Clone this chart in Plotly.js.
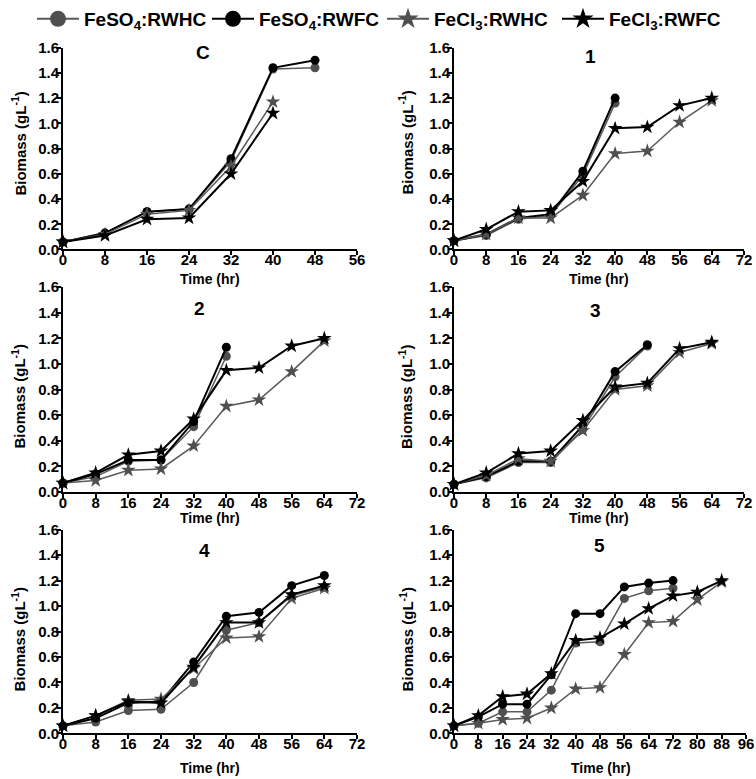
<!DOCTYPE html>
<html>
<head>
<meta charset="utf-8">
<script src="https://cdn.plot.ly/plotly-3.0.1.min.js"></script>
<style>html,body{margin:0;padding:0;background:#fff;}#chart{width:756px;height:779px;}</style>
</head>
<body>
<div id="chart"></div>
<script>
// ---- Data ----
const panelNames = ['C', '1', '2', '3', '4', '5'];
const seriesNames = ['FeSO<sub>4</sub>:RWHC', 'FeSO<sub>4</sub>:RWFC', 'FeCl<sub>3</sub>:RWHC', 'FeCl<sub>3</sub>:RWFC'];
const xTitle = 'Time (hr)';
const yTitle = 'Biomass (gL<sup>-1</sup>)';

const t40 = [0, 8, 16, 24, 32, 40];
const t48 = [0, 8, 16, 24, 32, 40, 48];
const t64 = [0, 8, 16, 24, 32, 40, 48, 56, 64];
const t72 = [0, 8, 16, 24, 32, 40, 48, 56, 64, 72];
const t88 = [0, 8, 16, 24, 32, 40, 48, 56, 64, 72, 80, 88];

// Panel C
const C_so4_hc = [0.06, 0.13, 0.30, 0.32, 0.70, 1.43, 1.44];
const C_so4_fc = [0.06, 0.13, 0.30, 0.32, 0.72, 1.44, 1.50];
const C_cl3_hc = [0.06, 0.12, 0.28, 0.31, 0.66, 1.17];
const C_cl3_fc = [0.06, 0.11, 0.24, 0.25, 0.60, 1.08];
// Panel 1
const P1_so4_hc = [0.07, 0.11, 0.24, 0.27, 0.59, 1.16];
const P1_so4_fc = [0.07, 0.12, 0.25, 0.28, 0.62, 1.20];
const P1_cl3_hc = [0.07, 0.12, 0.25, 0.25, 0.43, 0.76, 0.78, 1.01, 1.18];
const P1_cl3_fc = [0.07, 0.16, 0.30, 0.31, 0.54, 0.96, 0.97, 1.14, 1.20];
// Panel 2
const P2_so4_hc = [0.07, 0.12, 0.24, 0.25, 0.51, 1.06];
const P2_so4_fc = [0.07, 0.14, 0.25, 0.25, 0.55, 1.13];
const P2_cl3_hc = [0.07, 0.09, 0.17, 0.18, 0.36, 0.67, 0.72, 0.94, 1.18];
const P2_cl3_fc = [0.07, 0.15, 0.29, 0.32, 0.57, 0.95, 0.97, 1.14, 1.20];
// Panel 3
const P3_so4_hc = [0.06, 0.11, 0.23, 0.23, 0.49, 0.90, 1.14];
const P3_so4_fc = [0.06, 0.12, 0.24, 0.24, 0.52, 0.94, 1.15];
const P3_cl3_hc = [0.06, 0.13, 0.26, 0.24, 0.48, 0.80, 0.83, 1.09, 1.16];
const P3_cl3_fc = [0.06, 0.15, 0.30, 0.32, 0.56, 0.82, 0.85, 1.12, 1.17];
// Panel 4
const P4_so4_hc = [0.06, 0.09, 0.18, 0.19, 0.40, 0.81, 0.87, 1.08, 1.15];
const P4_so4_fc = [0.06, 0.12, 0.24, 0.25, 0.56, 0.92, 0.95, 1.16, 1.24];
const P4_cl3_hc = [0.06, 0.14, 0.26, 0.27, 0.51, 0.75, 0.76, 1.06, 1.14];
const P4_cl3_fc = [0.06, 0.14, 0.25, 0.24, 0.52, 0.87, 0.87, 1.09, 1.16];
// Panel 5
const P5_so4_hc = [0.06, 0.08, 0.17, 0.17, 0.34, 0.71, 0.72, 1.06, 1.12, 1.14];
const P5_so4_fc = [0.06, 0.13, 0.23, 0.23, 0.46, 0.94, 0.94, 1.15, 1.18, 1.20];
const P5_cl3_hc = [0.06, 0.08, 0.11, 0.12, 0.20, 0.35, 0.36, 0.62, 0.87, 0.88, 1.05, 1.19];
const P5_cl3_fc = [0.06, 0.14, 0.29, 0.31, 0.47, 0.73, 0.75, 0.86, 0.98, 1.08, 1.11, 1.20];

const xTickVals = [0, 8, 16, 24, 32, 40, 48, 56, 64, 72, 80, 88, 96];
const xMax = [56, 72, 72, 72, 72, 96];

const panelData = [
  [[t48, C_so4_hc], [t48, C_so4_fc], [t40, C_cl3_hc], [t40, C_cl3_fc]],
  [[t40, P1_so4_hc], [t40, P1_so4_fc], [t64, P1_cl3_hc], [t64, P1_cl3_fc]],
  [[t40, P2_so4_hc], [t40, P2_so4_fc], [t64, P2_cl3_hc], [t64, P2_cl3_fc]],
  [[t48, P3_so4_hc], [t48, P3_so4_fc], [t64, P3_cl3_hc], [t64, P3_cl3_fc]],
  [[t64, P4_so4_hc], [t64, P4_so4_fc], [t64, P4_cl3_hc], [t64, P4_cl3_fc]],
  [[t72, P5_so4_hc], [t72, P5_so4_fc], [t88, P5_cl3_hc], [t88, P5_cl3_fc]]
];

// ---- Styles / layout ----
const W = 756, H = 779;
const FONT = 'Liberation Sans, Arial, sans-serif';
const GRAY = '#4f4f4f';
const styles = [
  {symbol: 'circle', color: GRAY, lineColor: '#5a5a5a', lw: 1.5, size: 9},
  {symbol: 'circle', color: '#000', lineColor: '#000', lw: 2, size: 9},
  {symbol: 'star', color: GRAY, lineColor: '#5a5a5a', lw: 1.5, size: 11},
  {symbol: 'star', color: '#000', lineColor: '#000', lw: 2, size: 11}
];

// pixel boxes [x0, x1, yTop, yBottom]
const boxes = [
  [63, 357, 40, 244], [454, 744, 40, 244],
  [63, 357, 282, 489], [454, 744, 282, 489],
  [63, 357, 527, 733], [454, 746, 527, 733]
];
const titlePos = [[203, 45], [590, 49], [199, 304], [595, 306], [204, 548], [599, 543]];
const xTitlePos = [[210, 274], [599, 274], [210, 515], [599, 515], [210, 768], [601, 768]];
const yTitlePos = [[19, 137], [406, 136], [18.5, 393], [406, 393], [18, 638], [406, 638]];

const traces = [];
const layout = {
  width: W, height: H,
  margin: {l: 0, r: 0, t: 0, b: 0},
  paper_bgcolor: '#fff', plot_bgcolor: '#fff',
  font: {family: FONT, color: '#000', weight: 'bold'},
  showlegend: true,
  legend: {
    orientation: 'h', x: 32 / W, xanchor: 'left', y: 1 - 11 / H, yanchor: 'middle',
    font: {family: FONT, size: 19, color: '#000', weight: 'bold'},
    itemwidth: 42, entrywidth: 118, bgcolor: 'rgba(0,0,0,0)', traceorder: 'normal'
  },
  annotations: []
};

const tfont = (s) => ({family: FONT, size: s, color: '#000', weight: 'bold'});

panelData.forEach((series, p) => {
  const ax = p === 0 ? '' : String(p + 1);
  const b = boxes[p];
  layout['xaxis' + ax] = {
    domain: [b[0] / W, b[1] / W], anchor: 'y' + ax,
    range: [0, xMax[p]], tickvals: xTickVals.filter(v => v <= xMax[p]),
    showline: true, linecolor: '#000', linewidth: 2, ticks: 'outside', ticklen: 4, tickwidth: 2, tickcolor: '#000',
    ticklabelstandoff: -8, showgrid: false, zeroline: false, tickfont: tfont(15)
  };
  layout['yaxis' + ax] = {
    domain: [1 - b[3] / H, 1 - b[2] / H], anchor: 'x' + ax,
    range: [0, 1.6], dtick: 0.2, tick0: 0, tickformat: '.1f',
    showline: true, linecolor: '#000', linewidth: 2, ticks: 'outside', ticklen: 4, tickwidth: 2, tickcolor: '#000',
    ticklabelstandoff: -5, showgrid: false, zeroline: false, tickfont: tfont(15)
  };
  series.forEach((s, i) => {
    const st = styles[i];
    traces.push({
      type: 'scatter', mode: 'lines+markers', x: s[0], y: s[1],
      xaxis: 'x' + ax, yaxis: 'y' + ax, showlegend: false, cliponaxis: false,
      line: {color: st.lineColor, width: st.lw},
      marker: {symbol: st.symbol, size: st.size, color: st.color, line: {width: 0}},
      hoverinfo: 'skip'
    });
  });
  // panel title
  layout.annotations.push({
    text: panelNames[p], xref: 'paper', yref: 'paper', x: titlePos[p][0] / W, y: 1 - titlePos[p][1] / H,
    xanchor: 'center', yanchor: 'middle', showarrow: false, font: tfont(19)
  });
  // x-axis title
  layout.annotations.push({
    text: xTitle, xref: 'paper', yref: 'paper', x: xTitlePos[p][0] / W, y: 1 - xTitlePos[p][1] / H,
    xanchor: 'center', yanchor: 'middle', showarrow: false, font: tfont(14)
  });
  // y-axis title
  layout.annotations.push({
    text: yTitle, xref: 'paper', yref: 'paper', x: yTitlePos[p][0] / W, y: 1 - yTitlePos[p][1] / H,
    xanchor: 'center', yanchor: 'middle', textangle: -90, showarrow: false, font: tfont(15)
  });
});

// legend entries
styles.forEach((st, i) => {
  traces.push({
    type: 'scatter', mode: 'lines+markers', x: [null], y: [null], name: seriesNames[i],
    showlegend: true, hoverinfo: 'skip',
    line: {color: st.lineColor, width: 2},
    marker: {symbol: st.symbol, size: 16, color: st.color, line: {width: 0}}
  });
});

Plotly.newPlot('chart', traces, layout, {staticPlot: true, displayModeBar: false});
</script>
</body>
</html>
